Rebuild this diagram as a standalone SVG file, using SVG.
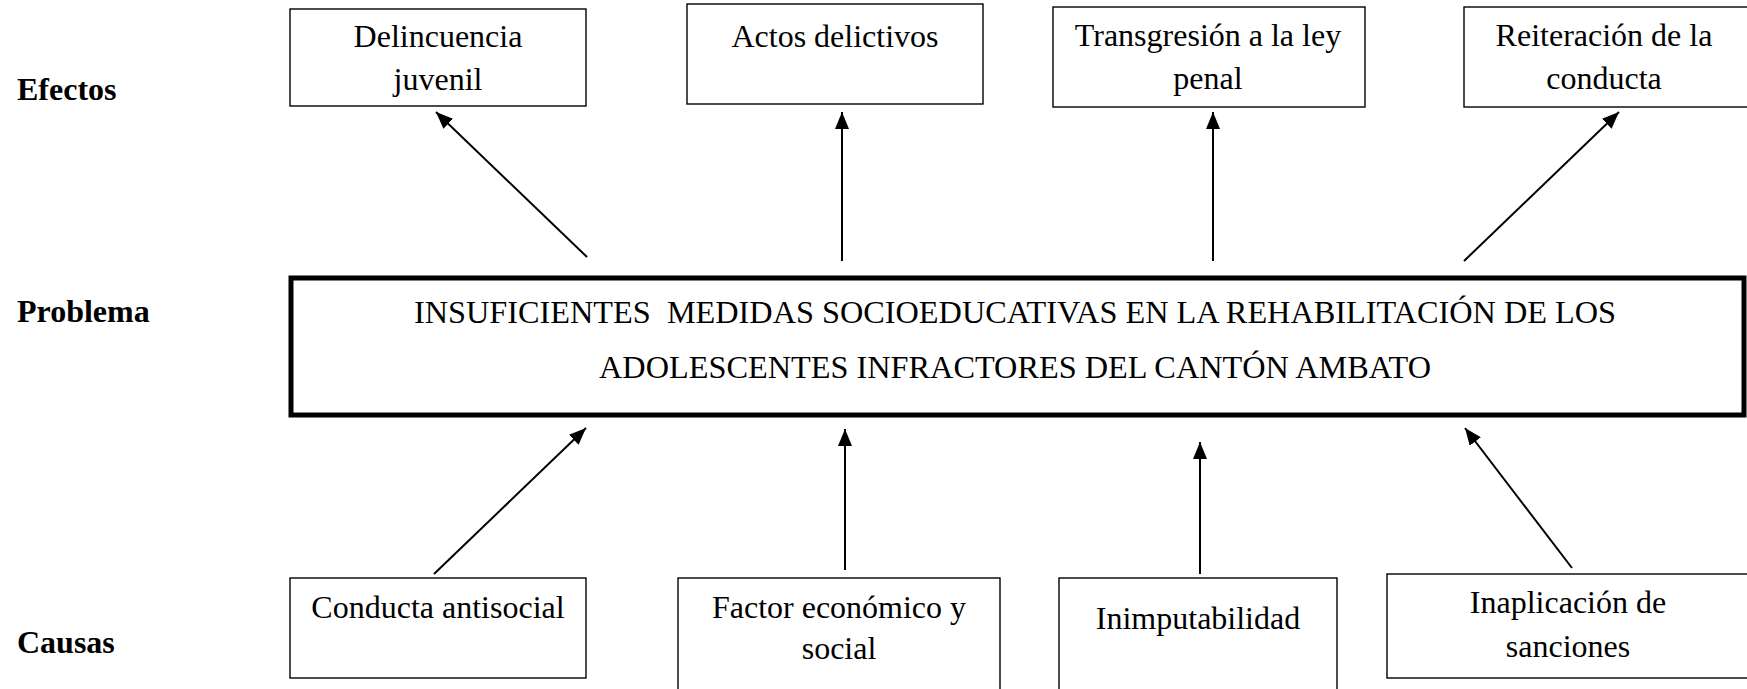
<svg xmlns="http://www.w3.org/2000/svg" width="1747" height="689" viewBox="0 0 1747 689">
<style>
.bg{fill:#fff}
.box{fill:#fff;stroke:#000;stroke-width:1.4}
.main{fill:#fff;stroke:#000;stroke-width:5}
.t{font-family:"Liberation Serif","Times New Roman",serif;font-size:32px;fill:#000;text-anchor:middle}
.lbl{font-family:"Liberation Serif","Times New Roman",serif;font-size:32px;font-weight:bold;fill:#000}
.c{stroke:#000;stroke-width:2;fill:none;marker-end:url(#ah)}
</style>
<defs>
<marker id="ah" markerUnits="userSpaceOnUse" markerWidth="18" markerHeight="14" refX="17" refY="7" orient="auto">
<path d="M0,0 L17,7 L0,14 z" fill="#000"/>
</marker>
</defs>
<rect class="bg" x="0" y="0" width="1747" height="689"/>
<g id="labels">
<text class="lbl" x="17" y="100">Efectos</text>
<text class="lbl" x="17" y="322">Problema</text>
<text class="lbl" x="17" y="653">Causas</text>
</g>
<g id="efecto1">
<rect class="box" x="290" y="9" width="296" height="97"/>
<text class="t" x="438" y="47">Delincuencia</text>
<text class="t" x="438" y="90">juvenil</text>
</g>
<g id="efecto2">
<rect class="box" x="687" y="4" width="296" height="100"/>
<text class="t" x="835" y="47">Actos delictivos</text>
</g>
<g id="efecto3">
<rect class="box" x="1053" y="7" width="312" height="100"/>
<text class="t" x="1208" y="46">Transgresión a la ley</text>
<text class="t" x="1208" y="89">penal</text>
</g>
<g id="efecto4">
<rect class="box" x="1464" y="7" width="290" height="100"/>
<text class="t" x="1604" y="46">Reiteración de la</text>
<text class="t" x="1604" y="89">conducta</text>
</g>
<g id="problema">
<rect class="main" x="291" y="278" width="1453" height="137"/>
<text class="t" x="1015" y="323" textLength="1202" lengthAdjust="spacingAndGlyphs">INSUFICIENTES&#160; MEDIDAS SOCIOEDUCATIVAS EN LA REHABILITACIÓN DE LOS</text>
<text class="t" x="1015" y="378" textLength="832" lengthAdjust="spacingAndGlyphs">ADOLESCENTES INFRACTORES DEL CANTÓN AMBATO</text>
</g>
<g id="causa1">
<rect class="box" x="290" y="578" width="296" height="100"/>
<text class="t" x="438" y="618">Conducta antisocial</text>
</g>
<g id="causa2">
<rect class="box" x="678" y="578" width="322" height="130"/>
<text class="t" x="839" y="618">Factor económico y</text>
<text class="t" x="839" y="659">social</text>
</g>
<g id="causa3">
<rect class="box" x="1059" y="578" width="278" height="130"/>
<text class="t" x="1198" y="629">Inimputabilidad</text>
</g>
<g id="causa4">
<rect class="box" x="1387" y="574" width="370" height="104"/>
<text class="t" x="1568" y="613">Inaplicación de</text>
<text class="t" x="1568" y="657">sanciones</text>
</g>
<g id="connectors">
<line class="c" x1="587" y1="257" x2="436" y2="112"/>
<line class="c" x1="842" y1="261" x2="842" y2="112"/>
<line class="c" x1="1213" y1="261" x2="1213" y2="112"/>
<line class="c" x1="1464" y1="261" x2="1619" y2="112"/>
<line class="c" x1="434" y1="574" x2="586" y2="428"/>
<line class="c" x1="845" y1="570" x2="845" y2="429"/>
<line class="c" x1="1200" y1="574" x2="1200" y2="442"/>
<line class="c" x1="1572" y1="568" x2="1465" y2="428"/>
</g>
</svg>
